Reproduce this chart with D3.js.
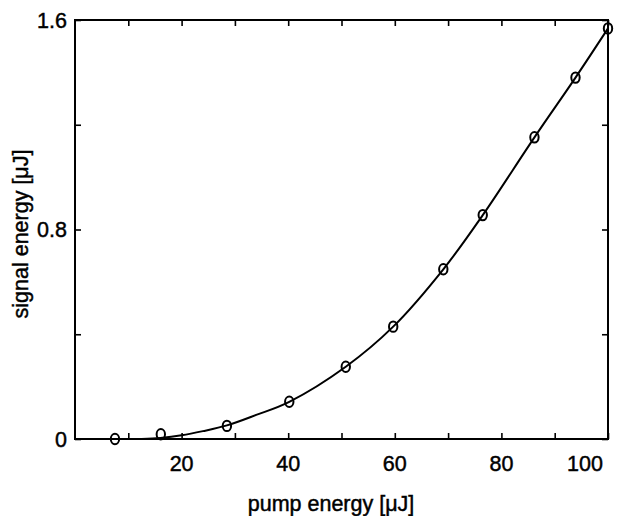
<!DOCTYPE html>
<html>
<head>
<meta charset="utf-8">
<script src="https://cdn.jsdelivr.net/npm/d3@7"></script>
<style>
  html, body { margin: 0; padding: 0; background: #fff; }
  svg { display: block; }
  text { font-family: "Liberation Sans", Arial, Helvetica, sans-serif; fill: #000; stroke: #000; stroke-width: 0.45px; }
</style>
</head>
<body>
<svg id="chart" width="621" height="516"></svg>
<script>
// measured points (pump energy in µJ, signal energy in µJ)
const pumpEnergy   = [7.5, 16.1, 28.5, 40.2, 50.8, 59.7, 69.1, 76.5, 86.2, 93.9, 100];
const signalEnergy = [0.0, 0.018, 0.05, 0.142, 0.276, 0.429, 0.648, 0.855, 1.152, 1.38, 1.568];

// fitted curve
const curveX = [12.5, 16, 20, 24, 28.5, 34, 40.2, 50.8, 59.7, 69.1, 76.5, 86.2, 93.9, 100];
const curveY = [0.0, 0.004, 0.014, 0.03, 0.052, 0.092, 0.142, 0.276, 0.429, 0.648, 0.855, 1.152, 1.38, 1.568];

const xTicks = [10, 20, 30, 40, 50, 60, 70, 80, 90, 100];
const xTickLabels = [20, 40, 60, 80, 100];
const yTicks = [0, 0.4, 0.8, 1.2, 1.6];
const yTickLabels = [0, 0.8, 1.6];

const svg = d3.select("#chart");
const L = 75, R = 608, T = 20, B = 439;
const x = d3.scaleLinear().domain([0, 100]).range([L, R]);
const y = d3.scaleLinear().domain([0, 1.6]).range([B, T]);

// frame
svg.append("rect").attr("x", L).attr("y", T).attr("width", R - L).attr("height", B - T)
  .attr("fill", "none").attr("stroke", "#000").attr("stroke-width", 2);

const tickLen = 6;
const fmt = v => "";
svg.append("g").attr("transform", `translate(0,${B})`)
  .call(d3.axisTop(x).tickValues(xTicks).tickSize(tickLen).tickFormat(fmt))
  .call(g => g.select(".domain").remove());
svg.append("g").attr("transform", `translate(0,${T})`)
  .call(d3.axisBottom(x).tickValues(xTicks).tickSize(tickLen).tickFormat(fmt))
  .call(g => g.select(".domain").remove());
svg.append("g").attr("transform", `translate(${L},0)`)
  .call(d3.axisRight(y).tickValues(yTicks).tickSize(tickLen).tickFormat(fmt))
  .call(g => g.select(".domain").remove());
svg.append("g").attr("transform", `translate(${R},0)`)
  .call(d3.axisLeft(y).tickValues(yTicks).tickSize(tickLen).tickFormat(fmt))
  .call(g => g.select(".domain").remove());
svg.selectAll(".tick line").attr("stroke", "#000").attr("stroke-width", 1.6);

// tick labels
svg.append("g").selectAll("text").data(xTickLabels).join("text")
  .attr("x", d => d === 100 ? x(d) - 23 : x(d))
  .attr("y", B + 32)
  .attr("text-anchor", "middle")
  .attr("font-size", 21.5)
  .text(d => d);
svg.append("g").selectAll("text").data(yTickLabels).join("text")
  .attr("x", L - 8)
  .attr("y", d => y(d) + 7.5)
  .attr("text-anchor", "end")
  .attr("font-size", 21.5)
  .text(d => d === 0 ? "0" : d.toFixed(1));

// axis titles
svg.append("text").attr("x", 331).attr("y", 511).attr("text-anchor", "middle")
  .attr("font-size", 21.5).text("pump energy [\u03bcJ]");
svg.append("text").attr("transform", `translate(28,234) rotate(-90)`).attr("text-anchor", "middle")
  .attr("font-size", 21.5).text("signal energy [\u03bcJ]");

// curve
const line = d3.line().x(d => x(d[0])).y(d => y(d[1])).curve(d3.curveCatmullRom.alpha(0.5));
svg.append("path").datum(curveX.map((v, i) => [v, curveY[i]]))
  .attr("d", line).attr("fill", "none").attr("stroke", "#000").attr("stroke-width", 2);

// markers
svg.append("g").selectAll("ellipse").data(pumpEnergy.map((v, i) => [v, signalEnergy[i]])).join("ellipse")
  .attr("cx", d => x(d[0])).attr("cy", d => y(d[1]))
  .attr("rx", 4.2).attr("ry", 5.2)
  .attr("fill", "none").attr("stroke", "#000").attr("stroke-width", 2);
</script>
</body>
</html>
